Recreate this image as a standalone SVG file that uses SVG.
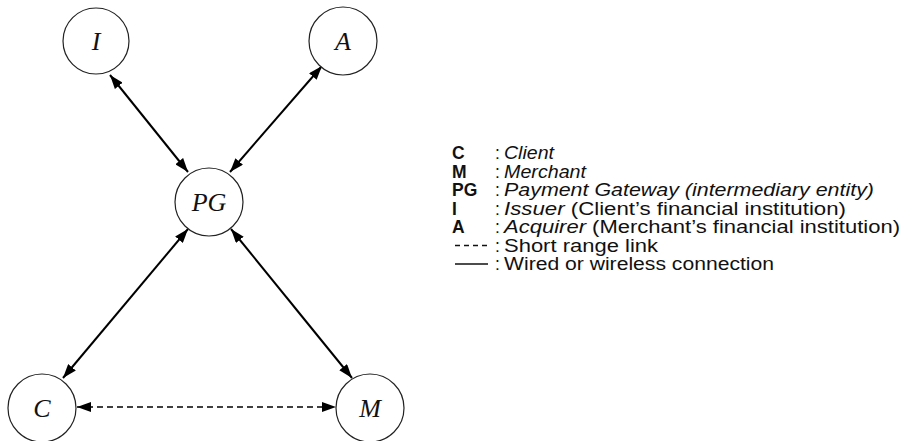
<svg xmlns="http://www.w3.org/2000/svg" width="903" height="441" viewBox="0 0 903 441">
  <defs>
    <marker id="head" viewBox="0 0 14 10" refX="14" refY="5" markerWidth="14" markerHeight="10" markerUnits="userSpaceOnUse" orient="auto-start-reverse">
      <path d="M0,0 L14,5 L0,10 z" fill="#000"/>
    </marker>
    <style>
      .node circle { fill: #fff; stroke: #222; stroke-width: 1.2; }
      .node text { font-family: "Liberation Serif", "Times New Roman", serif; font-style: italic; font-size: 26px; text-anchor: middle; fill: #111; }
      .link { stroke: #000; stroke-width: 2; fill: none; marker-start: url(#head); marker-end: url(#head); }
      .short { stroke-dasharray: 6 4; stroke-width: 1.6; }
      .legend text { font-family: "Liberation Sans", Arial, sans-serif; font-size: 17.5px; fill: #111; }
      .legend .key { font-weight: bold; }
      .legend .it { font-style: italic; }
    </style>
  </defs>

  <!-- connectors -->
  <g id="connectors">
    <line class="link" x1="110" y1="75" x2="188" y2="172"/>
    <line class="link" x1="322" y1="66" x2="230" y2="172"/>
    <line class="link" x1="188" y1="229" x2="63" y2="378"/>
    <line class="link" x1="231" y1="229" x2="352" y2="378"/>
    <line class="link short" x1="77" y1="407" x2="336" y2="407"/>
  </g>

  <!-- entities -->
  <g id="node-I" class="node">
    <circle cx="96" cy="41" r="33"/>
    <text x="96" y="50">I</text>
  </g>
  <g id="node-A" class="node">
    <circle cx="343" cy="41" r="34"/>
    <text x="343" y="50">A</text>
  </g>
  <g id="node-PG" class="node">
    <circle cx="209" cy="202" r="34"/>
    <text x="209" y="211">PG</text>
  </g>
  <g id="node-C" class="node">
    <circle cx="42" cy="408" r="34"/>
    <text x="42" y="417">C</text>
  </g>
  <g id="node-M" class="node">
    <circle cx="370" cy="408" r="34"/>
    <text x="370" y="417">M</text>
  </g>

  <!-- legend: descriptions are stretched to fixed widths -->
  <g id="legend" class="legend">
    <text class="key" x="452" y="159">C</text>
    <text x="495" y="159">:</text>
    <text class="it" x="504" y="159" textLength="50" lengthAdjust="spacingAndGlyphs">Client</text>

    <text class="key" x="452" y="177.5">M</text>
    <text x="495" y="177.5">:</text>
    <text class="it" x="504" y="177.5" textLength="82" lengthAdjust="spacingAndGlyphs">Merchant</text>

    <text class="key" x="452" y="196">PG</text>
    <text x="495" y="196">:</text>
    <text class="it" x="504" y="196" textLength="370" lengthAdjust="spacingAndGlyphs">Payment Gateway (intermediary entity)</text>

    <text class="key" x="452" y="214.5">I</text>
    <text x="495" y="214.5">:</text>
    <text x="504" y="214.5" textLength="342" lengthAdjust="spacingAndGlyphs"><tspan font-style="italic">Issuer</tspan> (Client’s financial institution)</text>

    <text class="key" x="452" y="233">A</text>
    <text x="495" y="233">:</text>
    <text x="504" y="233" textLength="396" lengthAdjust="spacingAndGlyphs"><tspan font-style="italic">Acquirer</tspan> (Merchant’s financial institution)</text>

    <line x1="455" y1="245.5" x2="488" y2="245.5" stroke="#111" stroke-width="1.3" stroke-dasharray="5 4"/>
    <text x="495" y="251.5">:</text>
    <text x="504" y="251.5" textLength="154" lengthAdjust="spacingAndGlyphs">Short range link</text>

    <line x1="455" y1="264" x2="488" y2="264" stroke="#111" stroke-width="1.3"/>
    <text x="495" y="270">:</text>
    <text x="504" y="270" textLength="270" lengthAdjust="spacingAndGlyphs">Wired or wireless connection</text>
  </g>
</svg>
